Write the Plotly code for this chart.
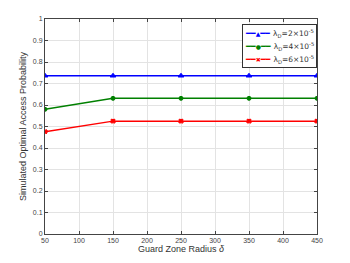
import plotly.graph_objects as go

x_vals = [50, 150, 250, 350, 450]
series_names = ["λ<sub>D</sub>=2×10<sup>-5</sup>", "λ<sub>D</sub>=4×10<sup>-5</sup>", "λ<sub>D</sub>=6×10<sup>-5</sup>"]
blue_vals = [0.736, 0.736, 0.736, 0.736, 0.736]
green_vals = [0.58, 0.631, 0.631, 0.631, 0.631]
red_vals = [0.476, 0.525, 0.525, 0.525, 0.525]
x_ticks = [50, 100, 150, 200, 250, 300, 350, 400, 450]
y_ticks = [0, 0.1, 0.2, 0.3, 0.4, 0.5, 0.6, 0.7, 0.8, 0.9, 1]

fig = go.Figure()
styles = [("#0000ff", "triangle-up", 5, "▲"), ("#008000", "circle", 4, "●"), ("#ff0000", "x", 4, "✖")]
legend_lines = []
for name, vals, (c, sym, sz, glyph) in zip(series_names, [blue_vals, green_vals, red_vals], styles):
    fig.add_trace(go.Scatter(x=x_vals, y=vals, mode="lines+markers", name=name, showlegend=False,
                             line=dict(color=c, width=1.5),
                             marker=dict(symbol=sym, size=sz, color=c, line=dict(color=c, width=1))))
    legend_lines.append(
        f"<span style='color:{c};font-size:8px'>━━<span style='font-size:6px'>{glyph}</span>━━</span>"
        f" <span style='font-size:7.5px;color:#333333'>{name}</span>")

axis_common = dict(showgrid=True, gridcolor="#e3e3e3", gridwidth=1, showline=True,
                   linecolor="#444444", linewidth=1, mirror="ticks", ticks="inside",
                   ticklen=3, tickcolor="#444444", zeroline=False, automargin=False,
                   tickfont=dict(family="Liberation Sans, Arial", size=7, color="#444444"))
fig.update_xaxes(range=[50, 450], tickvals=x_ticks, **axis_common,
                 title=dict(text="Guard Zone Radius <i>δ</i>", standoff=0,
                            font=dict(family="Liberation Sans, Arial", size=9, color="#333333")))
fig.update_yaxes(range=[0, 1], tickvals=y_ticks, **axis_common,
                 title=dict(text="Simulated Optimal Access Probability", standoff=4,
                            font=dict(family="Liberation Sans, Arial", size=9, color="#333333")))
fig.add_annotation(xref="paper", yref="paper", x=0.725, y=0.977, xanchor="left", yanchor="top",
                   text="<br>".join(legend_lines), showarrow=False, align="left",
                   bgcolor="white", bordercolor="#333333", borderwidth=1, borderpad=2,
                   font=dict(family="DejaVu Sans, Liberation Sans", size=10, color="#333333"))
fig.update_layout(width=342, height=255, margin=dict(l=37, r=33, t=11, b=29),
                  plot_bgcolor="white", paper_bgcolor="white", showlegend=False)
fig.write_html("out.html")
